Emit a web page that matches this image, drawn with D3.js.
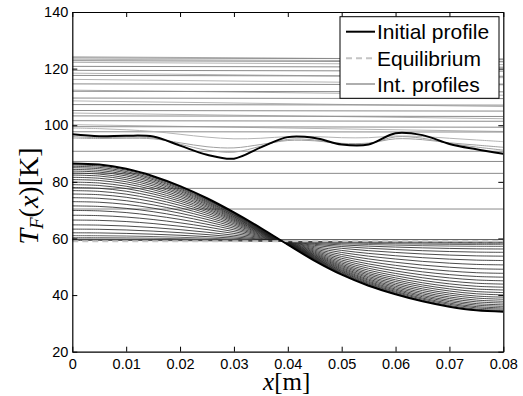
<!DOCTYPE html>
<html><head><meta charset="utf-8">
<script src="https://cdn.jsdelivr.net/npm/d3@7"></script>
<style>
html,body{margin:0;padding:0;background:#fff;}
svg{display:block;}
</style></head>
<body>
<svg id="chart" width="523" height="396"></svg>
<script>
// ---- data ----
const xGrid = [0,0.005,0.01,0.015,0.02,0.025,0.03,0.035,0.04,0.045,0.05,0.055,0.06,0.065,0.07,0.075,0.08];
const initialUpper = [96.8,96.1,96.3,96.0,92.8,89.6,88.2,92.2,95.8,95.5,93.2,93.2,97.2,96.5,93.4,91.5,89.9];
const initialLower = [86.5,86.1,84.6,82.0,78.5,74.2,69.2,63.7,57.8,52.1,47.2,43.3,40.3,37.8,35.9,34.6,34.1];
const equilibrium = 59;
const lowerLeftEnds = [86.0,85.5,85.0,84.4,83.8,83.1,82.4,81.6,80.8,79.9,79.0,78.0,76.9,75.7,74.4,73.0,71.5,69.9,68.2,66.5,64.8,63.3,62.0,61.0,60.3,59.8,59.5,59.3];
const wavyA = [96.0,95.6,95.8,95.5,93.3,91.2,90.5,92.6,95.0,94.8,93.3,93.5,95.9,95.4,93.6,92.3,91.2];
const wavyB = [95.5,95.3,95.4,95.2,93.8,92.4,92.0,93.2,94.6,94.5,93.6,93.7,95.2,94.9,93.8,93.0,92.2];
const wavyC = [99.0,98.8,98.4,97.8,96.8,95.8,95.2,95.4,96.0,96.0,95.6,95.6,96.2,96.0,95.4,94.8,94.2];
const flatLeft  = [124.2,123.8,123.3,122.8,122.2,120.8,119.4,118.4,117.6,116.2,114.6,112.4,112.0,109.6,108.6,107.3,105.2,104.3,103.3,101.6,100.2,99.5,97.7,90.8,87.2,83.0,77.7,70.4,59.6];
const flatRight = [123.2,123.4,122.6,122.4,121.4,120.5,119.1,116.8,117.3,114.6,114.3,110.6,111.8,109.4,106.6,107.1,105.0,102.3,103.1,101.4,97.8,99.3,97.6,90.8,87.2,83.0,77.7,70.4,59.6];
const flatShade = ["l","m","l","m","l","m","m","l","m","l","m","l","m","m","l","m","m","l","m","m","l","m","m","m","m","m","m","m","d"];
const xTicks = [0,0.01,0.02,0.03,0.04,0.05,0.06,0.07,0.08];
const yTicks = [20,40,60,80,100,120,140];
const legendLabels = ["Initial profile","Equilibrium","Int. profiles"];

// ---- layout ----
const L = 72.3, R = 503.3, T = 12, B = 351.7;
const SANS = "'Liberation Sans',Arial,sans-serif";
const SERIF = "'Liberation Serif','Times New Roman',serif";
const svg = d3.select("#chart");
const x = d3.scaleLinear().domain([0,0.08]).range([L,R]);
const y = d3.scaleLinear().domain([20,140]).range([B,T]);

svg.append("defs").append("clipPath").attr("id","clip")
  .append("rect").attr("x",L).attr("y",T).attr("width",R-L).attr("height",B-T);
const plot = svg.append("g").attr("clip-path","url(#clip)");

const line = d3.line().x((d,i)=>x(xGrid[i])).y(d=>y(d)).curve(d3.curveCatmullRom.alpha(0.5));
const shadeColor = {l:"#b4b4b4", m:"#8a8a8a", d:"#555"};

// upper intermediate profiles
flatLeft.forEach((lv,i)=>{
  plot.append("line")
    .attr("x1",x(0)).attr("x2",x(0.08))
    .attr("y1",y(lv)).attr("y2",y(flatRight[i]))
    .attr("stroke",shadeColor[flatShade[i]]).attr("stroke-width",1);
});
[wavyC,wavyA,wavyB].forEach((arr,i)=>{
  plot.append("path").attr("d",line(arr)).attr("fill","none")
    .attr("stroke", i===0 ? "#b4b4b4" : "#a0a0a0").attr("stroke-width",1);
});

// lower intermediate profiles
const outer0 = initialLower[0];
lowerLeftEnds.forEach((lv,k)=>{
  const f = (lv-equilibrium)/(outer0-equilibrium);
  const arr = initialLower.map(v=>equilibrium + f*(v-equilibrium));
  plot.append("path").attr("d",line(arr)).attr("fill","none")
    .attr("stroke", k>22 ? "#444" : "#1e1e1e").attr("stroke-width",0.8);
});

// equilibrium
plot.append("line").attr("x1",x(0)).attr("x2",x(0.08))
  .attr("y1",y(equilibrium)).attr("y2",y(equilibrium))
  .attr("stroke","#c4c4c4").attr("stroke-width",2).attr("stroke-dasharray","6,4");

// initial profiles
[initialUpper, initialLower].forEach(arr=>{
  plot.append("path").attr("d",line(arr)).attr("fill","none")
    .attr("stroke","#000").attr("stroke-width",2);
});

// ---- axes ----
const fmt = d=> d===0 ? "0" : d3.format(".2f")(d);
const gx = svg.append("g").attr("transform",`translate(0,${B})`)
  .call(d3.axisBottom(x).tickValues(xTicks).tickFormat(fmt).tickSize(-5).tickSizeOuter(0).tickPadding(7.5));
const gxt = svg.append("g").attr("transform",`translate(0,${T})`)
  .call(d3.axisTop(x).tickValues(xTicks).tickFormat("").tickSize(-5).tickSizeOuter(0));
const gy = svg.append("g").attr("transform",`translate(${L},0)`)
  .call(d3.axisLeft(y).tickValues(yTicks).tickSize(-5).tickSizeOuter(0).tickPadding(4));
const gyr = svg.append("g").attr("transform",`translate(${R},0)`)
  .call(d3.axisRight(y).tickValues(yTicks).tickFormat("").tickSize(-5).tickSizeOuter(0));
[gx,gxt,gy,gyr].forEach(g=>{
  g.attr("font-family",null).attr("font-size",null);
  g.selectAll("path.domain").attr("stroke","#000").attr("stroke-width",1.2);
  g.selectAll(".tick line").attr("stroke","#000").attr("stroke-width",1);
  g.selectAll("text").style("font-size","14.5px").style("font-family",SANS).attr("fill","#000");
});

// axis titles
const xt = svg.append("text").attr("x",286.7).attr("y",390).attr("fill","#000")
  .attr("text-anchor","middle").style("font-family",SERIF).style("font-size","25px");
xt.append("tspan").style("font-style","italic").text("x");
xt.append("tspan").text("[m]");

const yt = svg.append("text").attr("transform","translate(38,196) rotate(-90)").attr("fill","#000")
  .attr("text-anchor","middle").style("font-family",SERIF).style("font-size","28px");
yt.append("tspan").style("font-style","italic").text("T");
yt.append("tspan").style("font-style","italic").style("font-size","19px").attr("dy","5").text("F");
yt.append("tspan").attr("dy","-5").text("(");
yt.append("tspan").style("font-style","italic").text("x");
yt.append("tspan").text(")[K]");

// ---- legend ----
const lg = svg.append("g");
lg.append("rect").attr("x",340).attr("y",16.7).attr("width",159).attr("height",81.6)
  .attr("fill","#fff").attr("stroke","#000").attr("stroke-width",1);
const rowsY = [31.7,58.3,84];
const styles = [
  {stroke:"#000",w:2,dash:null},
  {stroke:"#c4c4c4",w:2,dash:"6,4"},
  {stroke:"#777",w:1.2,dash:null}
];
legendLabels.forEach((lab,i)=>{
  lg.append("line").attr("x1",346).attr("x2",375).attr("y1",rowsY[i]).attr("y2",rowsY[i])
    .attr("stroke",styles[i].stroke).attr("stroke-width",styles[i].w)
    .attr("stroke-dasharray",styles[i].dash);
  lg.append("text").attr("x",377).attr("y",rowsY[i]+7.6)
    .style("font-size","21px").style("font-family",SANS).attr("fill","#000").text(lab);
});
</script>
</body></html>
